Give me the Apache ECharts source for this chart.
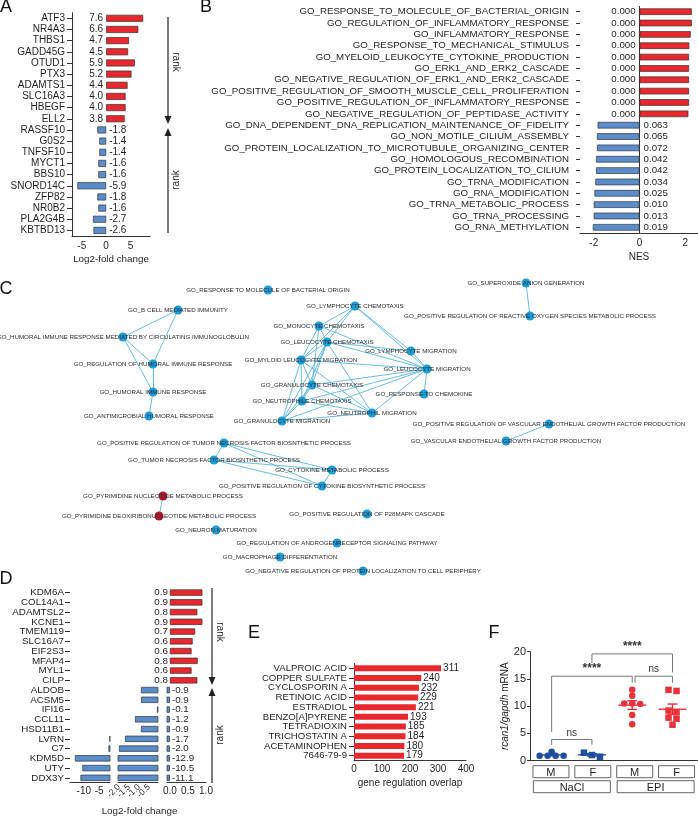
<!DOCTYPE html>
<html><head><meta charset="utf-8">
<script src="https://cdn.jsdelivr.net/npm/echarts@6/dist/echarts.min.js"></script>
<style>html,body{margin:0;padding:0;background:#fff}#c{width:698px;height:817px}</style>
</head><body><div id="c"></div>
<script>
// ---------- DATA ----------
// Panel A
const genesA = ['ATF3','NR4A3','THBS1','GADD45G','OTUD1','PTX3','ADAMTS1','SLC16A3','HBEGF','ELL2','RASSF10','G0S2','TNFSF10','MYCT1','BBS10','SNORD14C','ZFP82','NR0B2','PLA2G4B','KBTBD13'];
const fcA = [7.6,6.6,4.7,4.5,5.9,5.2,4.4,4.0,4.0,3.8,-1.8,-1.4,-1.4,-1.6,-1.6,-5.9,-1.8,-1.6,-2.7,-2.6];
const ticksA = [-5,0,5];
// Panel B
const termsB = ['GO_RESPONSE_TO_MOLECULE_OF_BACTERIAL_ORIGIN','GO_REGULATION_OF_INFLAMMATORY_RESPONSE','GO_INFLAMMATORY_RESPONSE','GO_RESPONSE_TO_MECHANICAL_STIMULUS','GO_MYELOID_LEUKOCYTE_CYTOKINE_PRODUCTION','GO_ERK1_AND_ERK2_CASCADE','GO_NEGATIVE_REGULATION_OF_ERK1_AND_ERK2_CASCADE','GO_POSITIVE_REGULATION_OF_SMOOTH_MUSCLE_CELL_PROLIFERATION','GO_POSITIVE_REGULATION_OF_INFLAMMATORY_RESPONSE','GO_NEGATIVE_REGULATION_OF_PEPTIDASE_ACTIVITY','GO_DNA_DEPENDENT_DNA_REPLICATION_MAINTENANCE_OF_FIDELITY','GO_NON_MOTILE_CILIUM_ASSEMBLY','GO_PROTEIN_LOCALIZATION_TO_MICROTUBULE_ORGANIZING_CENTER','GO_HOMOLOGOUS_RECOMBINATION','GO_PROTEIN_LOCALIZATION_TO_CILIUM','GO_TRNA_MODIFICATION','GO_RNA_MODIFICATION','GO_TRNA_METABOLIC_PROCESS','GO_TRNA_PROCESSING','GO_RNA_METHYLATION'];
const nesB = [2.28,2.28,2.23,2.17,2.16,2.16,2.16,2.16,2.16,2.13,-1.83,-1.86,-1.86,-1.90,-1.90,-1.93,-1.97,-2.00,-2.00,-2.04];
const fdrB = ['0.000','0.000','0.000','0.000','0.000','0.000','0.000','0.000','0.000','0.000','0.063','0.065','0.072','0.042','0.042','0.034','0.025','0.010','0.013','0.019'];
const ticksB = [-2,0,2];
// Panel C (network)
const nodeNames = ['GO_RESPONSE TO MOLECULE OF BACTERIAL ORIGIN','GO_B CELL MEDIATED IMMUNITY','GO_HUMORAL IMMUNE RESPONSE MEDIATED BY CIRCULATING IMMUNOGLOBULIN','GO_REGULATION OF HUMORAL IMMUNE RESPONSE','GO_HUMORAL IMMUNE RESPONSE','GO_ANTIMICROBIAL HUMORAL RESPONSE','GO_MONOCYTE CHEMOTAXIS','GO_LEUCOCYTE CHEMOTAXIS','GO_MYLOID LEUCOCYTE MIGRATION','GO_GRANULOCYTE CHEMOTAXIS','GO_NEUTROPHILE CHEMOTAXIS','GO_GRANULOCYTE MIGRATION','GO_LYMPHOCYTE CHEMOTAXIS','GO_LYMPHOCYTE MIGRATION','GO_LEUCOCYTE MIGRATION','GO_RESPONSE TO CHEMOKINE','GO_NEUTROPHIL MIGRATION','GO_SUPEROXIDE ANION GENERATION','GO_POSITIVE REGULATION OF REACTIVE OXYGEN SPECIES METABOLIC PROCESS','GO_POSITIVE REGULATION OF VASCULAR ENDOTHELIAL GROWTH FACTOR PRODUCTION','GO_VASCULAR ENDOTHELIAL GROWTH FACTOR PRODUCTION','GO_POSITIVE REGULATION OF TUMOR NECROSIS FACTOR BIOSNTHETIC PROCESS','GO_TUMOR NECROSIS FACTOR BIOSNTHETIC PROCESS','GO_CYTOKINE METABOLIC PROCESS','GO_POSITIVE REGULATION OF CYTOKINE BIOSYNTHETIC PROCESS','GO_PYRIMIDINE NUCLEOTIDE METABOLIC PROCESS','GO_PYRIMIDINE DEOXIRIBONUCLEOTIDE METABOLIC PROCESS','GO_NEURON MATURATION','GO_POSITIVE REGULATION OF P28MAPK CASCADE','GO_REGULATION OF ANDROGENRECEPTOR SIGNALING PATHWAY','GO_MACROPHAGE DIFFERENTIATION','GO_NEGATIVE REGULATION OF PROTEIN LOCALIZATION TO CELL PERIPHERY'];
const nodeX = [268,178,123,153,153,149,319,327,301,312,302,282,355,411,427,424,372,526,530,549,506,224,214,332,322,163,159,216,367,337,280,363];
const nodeY = [290,310,337,364,392,416,326,342,360,385,401,421,306,351,369,394,413,283,316,424,441,443,460,470,486,496,516,530,514,543,557,571];
const nodeGroup = ['up','up','up','up','up','up','up','up','up','up','up','up','up','up','up','up','up','up','up','up','up','up','up','up','up','down','down','up','up','up','up','up'];
const edges = [[1,2],[1,3],[2,3],[2,4],[3,4],[4,5],
 [12,6],[12,7],[12,8],[12,13],[12,14],
 [6,7],[6,8],[6,9],[6,14],
 [7,8],[7,9],[7,10],[7,11],[7,13],[7,14],[7,16],
 [8,9],[8,10],[8,11],[8,14],[8,16],
 [9,10],[9,11],[9,14],[9,16],
 [10,11],[10,14],[10,16],
 [11,14],[11,16],[13,14],[14,15],[14,16],
 [17,18],[19,20],[21,22],[21,23],[21,24],[22,23],[22,24],[23,24],[25,26]];
// Panel D
const genesD = ['KDM6A','COL14A1','ADAMTSL2','KCNE1','TMEM119','SLC16A7','EIF2S3','MFAP4','MYL1','CILP','ALDOB','ACSM5','IFI16','CCL11','HSD11B1','LVRN','C7','KDM5D','UTY','DDX3Y'];
const fcD = [0.9,0.9,0.76,0.9,0.7,0.63,0.6,0.77,0.6,0.76,-0.9,-0.9,-0.1,-1.2,-0.9,-1.7,-2.0,-12.9,-10.5,-11.1];
const ticksD1 = [-10,-5];
const ticksD2 = [-2.0,-1.5,-1.0,-0.5];
const ticksD2a = [-2.0,-1.0];
const ticksD2b = [-1.5,-0.5];
const ticksD3 = [0.0,0.5,1.0];
// Panel E
const chemE = ['VALPROIC ACID','COPPER SULFATE','CYCLOSPORIN A','RETINOIC ACID','ESTRADIOL','BENZO[A]PYRENE','TETRADIOXIN','TRICHOSTATIN A','ACETAMINOPHEN','7646-79-9'];
const overlapE = [311,240,232,229,221,193,185,184,180,179];
// Panel F
const sexF = ['M','F','M','F'];
const treatF = ['NaCl','EPI'];
const naclM = [1.65,0.9,0.9,0.9,0.9];
const naclF = [0.73,1.47,1.04];
const epiM = [13.0,11.9,10.5,10.4,10.5,8.4,6.7];
const epiF = [13.0,12.8,9.2,8.9,7.9,7.7,6.6];
const sigLabels = ['****','ns','****','ns'];
// bracket: [fromGroup, toGroup, top, leftEnd, rightEnd]
const sigBrackets = [[0,2,15.5,5.3,14.3],[2.07,3,15.5,14.3,14.3],[1,3,19.6,17.9,16.2],[0,1,3.9,2.9,2.9]];

// ---------- STYLE ----------
const FONT = '"Liberation Sans", Arial, Helvetica, sans-serif';
const TXT = '#1e1e1e';
const RED = '#e8282c', BLUE = '#5a8dcc', OUT = '#333';
const FBLUE = '#1f4f9e', FRED = '#e8323a';
const NODE_BLUE = '#1d9dd8', NODE_RED = '#b0172c';

function barData(vals){
  return vals.map(v => ({value: v, itemStyle: {color: v >= 0 ? RED : BLUE}, label: {position: v >= 0 ? 'left' : 'right'}}));
}
function swarm(vals, thr, step){
  const idx = vals.map((v,i)=>i).sort((a,b)=>vals[b]-vals[a]);
  const rows = []; let cur = [];
  idx.forEach(i => { if (cur.length && vals[cur[cur.length-1]] - vals[i] > thr) { rows.push(cur); cur = []; } cur.push(i); });
  if (cur.length) rows.push(cur);
  const off = new Array(vals.length).fill(0);
  rows.forEach(r => r.forEach((i,k) => off[i] = (k - (r.length-1)/2) * step));
  return off;
}
function meanSem(v){
  const m = v.reduce((a,b)=>a+b,0)/v.length;
  const sd = Math.sqrt(v.reduce((a,b)=>a+(b-m)*(b-m),0)/(v.length-1));
  return [m, sd/Math.sqrt(v.length)];
}
const groupsF = [naclM, naclF, epiM, epiF];
const groupColor = [FBLUE, FBLUE, FRED, FRED];
const groupSymbol = ['circle','rect','circle','rect'];

const catAxisBase = (grid, data, show) => ({
  type:'category', gridIndex:grid, data:data, inverse:true, show:show,
  axisLine:{show:false, onZero:false}, axisTick:{show:true, alignWithLabel:true, length:5, lineStyle:{color:'#333'}},
  axisLabel:{interval:0, fontSize:10, color:TXT, fontFamily:FONT, margin:7}
});
const axLine = {show:true, onZero:false, lineStyle:{color:'#333', width:1}};
const seg2Label = vals => ({customValues:vals, rotate:45, fontSize:8.5, color:TXT, margin:3, hideOverlap:false, showMinLabel:true, showMaxLabel:true, formatter:v=>Number(v).toFixed(1)});

const xAxes = [
  // 0 A
  {type:'value', gridIndex:0, min:-7, max:9, interval:1, axisLine:axLine, splitLine:{show:false},
   axisTick:{length:3, lineStyle:{color:'#333'}}, axisLabel:{customValues:ticksA, fontSize:10, color:TXT, margin:5},
   name:'Log2-fold change', nameLocation:'middle', nameGap:18, nameTextStyle:{fontSize:9.8, color:TXT}},
  // 1 B
  {type:'value', gridIndex:1, min:-2.6, max:2.55, axisLine:axLine, splitLine:{show:false},
   axisTick:{customValues:ticksB, length:4, lineStyle:{color:'#333'}}, axisLabel:{customValues:ticksB, fontSize:10, color:TXT, margin:5},
   name:'NES', nameLocation:'middle', nameGap:19, nameTextStyle:{fontSize:10, color:TXT}},
  // 2 D seg1
  {type:'value', gridIndex:2, min:-14.5, max:-1.5, axisLine:axLine, splitLine:{show:false},
   axisTick:{customValues:ticksD1, length:3}, axisLabel:{customValues:ticksD1, fontSize:10, color:TXT, margin:4}},
  // 3 D seg2 (ticks + half the labels)
  {type:'value', gridIndex:3, position:'bottom', min:-2.05, max:-0.05, axisLine:axLine, splitLine:{show:false},
   axisTick:{customValues:ticksD2, length:3}, axisLabel:seg2Label(ticksD2a)},
  // 4 D seg3
  {type:'value', gridIndex:4, min:-0.08, max:1.0, axisLine:axLine, splitLine:{show:false},
   axisTick:{customValues:ticksD3, length:3}, axisLabel:{customValues:ticksD3, fontSize:10, color:TXT, margin:4, hideOverlap:false, formatter:v=>Number(v).toFixed(1)}},
  // 5 E
  {type:'value', gridIndex:5, min:0, max:400, interval:100, axisLine:axLine, splitLine:{show:false},
   axisTick:{length:4, lineStyle:{color:'#333'}}, axisLabel:{fontSize:10, color:TXT, margin:4},
   name:'gene regulation overlap', nameLocation:'middle', nameGap:18, nameTextStyle:{fontSize:10, color:TXT}},
  // 6 F value
  {type:'value', gridIndex:6, min:-0.537, max:3.62, axisLine:axLine, axisTick:{show:false}, axisLabel:{show:false}, splitLine:{show:false}},
  // 7 F sex boxes
  {type:'category', gridIndex:6, data:sexF, position:'bottom', axisLine:{show:false}, axisTick:{show:false},
   axisLabel:{interval:0, fontSize:11, color:TXT, margin:5, borderColor:'#666', borderWidth:1, width:36, height:11, lineHeight:12, padding:[1,0,0,0], align:'center'}},
  // 8 F treatment boxes
  {type:'category', gridIndex:6, data:treatF, position:'bottom', offset:15, axisLine:{show:false}, axisTick:{show:false},
   axisLabel:{interval:0, fontSize:11, color:TXT, margin:5, borderColor:'#666', borderWidth:1, width:77, height:11, lineHeight:12, padding:[1,0,0,0], align:'center'}},
  // 9 C hidden
  {type:'value', gridIndex:7, min:0, max:698, show:false},
  // 10 D seg2 other labels
  {type:'value', gridIndex:3, position:'bottom', min:-2.05, max:-0.05, axisLine:{show:false}, axisTick:{show:false}, splitLine:{show:false},
   axisLabel:seg2Label(ticksD2b)}
];
const yAxes = [
  Object.assign(catAxisBase(0, genesA, true), {axisLine:{show:true, onZero:false, lineStyle:{color:'#333'}}}),
  Object.assign(catAxisBase(1, termsB, true), {axisTick:{show:true, alignWithLabel:true, length:4, lineStyle:{color:'#333'}}, axisLabel:{interval:0, fontSize:9.7, color:TXT, margin:11}}),
  Object.assign(catAxisBase(2, genesD, true), {axisLabel:{interval:0, fontSize:9.8, color:TXT, margin:6}}),
  catAxisBase(3, genesD, false),
  catAxisBase(4, genesD, false),
  Object.assign(catAxisBase(5, chemE, true), {axisLine:{show:true, onZero:false, lineStyle:{color:'#333'}}, axisLabel:{interval:0, fontSize:9.6, color:TXT, margin:7}}),
  {type:'value', gridIndex:6, min:0, max:20, interval:5, axisLine:axLine, splitLine:{show:false},
   axisTick:{length:3, lineStyle:{color:'#333'}}, axisLabel:{fontSize:11, color:TXT, margin:4},
   name:'{i|rcan1/gapdh} mRNA', nameLocation:'middle', nameGap:18, nameRotate:90,
   nameTextStyle:{fontSize:10, color:TXT, rich:{i:{fontStyle:'italic', fontSize:10, color:TXT}}}},
  {type:'value', gridIndex:7, min:0, max:817, inverse:true, show:false}
];

const series = [];
// A
series.push({type:'bar', xAxisIndex:0, yAxisIndex:0, data:barData(fcA), barWidth:7,
  itemStyle:{borderColor:OUT, borderWidth:0.7},
  label:{show:true, distance:3, fontSize:10, color:TXT, formatter:p=>p.value.toFixed(1)}});
// B
series.push({type:'bar', xAxisIndex:1, yAxisIndex:1, data:barData(nesB), barWidth:6.6,
  itemStyle:{borderColor:OUT, borderWidth:0.7},
  label:{show:true, distance:4, fontSize:9.7, color:TXT, formatter:p=>fdrB[p.dataIndex]},
  markLine:{silent:true, symbol:'none', label:{show:false}, lineStyle:{color:'#333', width:1, type:'solid'}, data:[{xAxis:0}]}});
// D three segments
[2,3,4].forEach((g,k) => {
  series.push({type:'bar', xAxisIndex:g, yAxisIndex:g, data:barData(fcD), barWidth:6.3, clip:true,
    itemStyle:{borderColor:OUT, borderWidth:0.7},
    label:{show:k===2, distance:2, fontSize:9.8, color:TXT, formatter:p=>p.value.toFixed(1)}});
});
// E
series.push({type:'bar', xAxisIndex:5, yAxisIndex:5, data:overlapE, barWidth:6, itemStyle:{color:RED},
  label:{show:true, position:'right', distance:2, fontSize:10, color:TXT}});
// F points
groupsF.forEach((vals, gi) => {
  const off = swarm(vals, 0.7, 8);
  series.push({type:'scatter', xAxisIndex:6, yAxisIndex:6, symbol:groupSymbol[gi], symbolSize:6.5,
    itemStyle:{color:groupColor[gi], opacity:1}, z:3,
    data:vals.map((v,i)=>({value:[gi, v], symbolOffset:[off[i], 0]}))});
});
// F mean ± SEM
series.push({type:'custom', xAxisIndex:6, yAxisIndex:6, z:4,
  data:groupsF.map((v,gi)=>{const ms=meanSem(v); return [gi, ms[0], ms[1]];}),
  renderItem:(params, api) => {
    const x = api.value(0), m = api.value(1), s = api.value(2);
    const c = api.coord([x,m]), t = api.coord([x,m+s]), b = api.coord([x,m-s]);
    const col = groupColor[params.dataIndex];
    const st = {stroke:col, lineWidth:1.4};
    return {type:'group', children:[
      {type:'line', shape:{x1:c[0]-14, y1:c[1], x2:c[0]+14, y2:c[1]}, style:st},
      {type:'line', shape:{x1:c[0], y1:t[1], x2:c[0], y2:b[1]}, style:st},
      {type:'line', shape:{x1:c[0]-5, y1:t[1], x2:c[0]+5, y2:t[1]}, style:st},
      {type:'line', shape:{x1:c[0]-5, y1:b[1], x2:c[0]+5, y2:b[1]}, style:st}
    ]};
  }});
// F significance brackets
series.push({type:'custom', xAxisIndex:6, yAxisIndex:6, z:5, data:sigBrackets,
  renderItem:(params, api) => {
    const x1 = api.value(0), x2 = api.value(1), top = api.value(2), yl = api.value(3), yr = api.value(4);
    const a = api.coord([x1, top]), b = api.coord([x2, top]), l = api.coord([x1, yl]), r = api.coord([x2, yr]);
    return {type:'group', children:[
      {type:'polyline', shape:{points:[l, a, b, r]}, style:{stroke:'#777', lineWidth:1, fill:null}},
      {type:'text', style:{x:(a[0]+b[0])/2, y:a[1]-1.5, text:sigLabels[params.dataIndex], align:'center', verticalAlign:'bottom',
        fontSize: sigLabels[params.dataIndex]==='ns' ? 10 : 12, fontWeight: sigLabels[params.dataIndex]==='ns' ? 'normal' : 'bold', fill:'#333', fontFamily:FONT}}
    ]};
  }});
// C network
series.push({type:'graph', coordinateSystem:'cartesian2d', xAxisIndex:9, yAxisIndex:7, symbolSize:9, z:2,
  data:nodeNames.map((n,i)=>({name:n, value:[nodeX[i], nodeY[i]], itemStyle:{color: nodeGroup[i]==='down' ? NODE_RED : NODE_BLUE}})),
  links:edges.map(e=>({source:nodeNames[e[0]], target:nodeNames[e[1]]})),
  lineStyle:{color:'#58b5dd', width:0.9, opacity:1},
  label:{show:true, position:'inside', fontSize:6.2, color:'#2a2a2a', fontFamily:FONT, formatter:'{b}'},
  emphasis:{disabled:true}, silent:true});

// ---------- decorations ----------
function arrow(x, y1, y2){ // arrow from y1 to tip y2
  const dir = y2 > y1 ? 1 : -1;
  return [
    {type:'line', shape:{x1:x, y1:y1, x2:x, y2:y2 - dir*6}, style:{stroke:'#222', lineWidth:1.2}},
    {type:'polygon', shape:{points:[[x-3.5, y2 - dir*8],[x+3.5, y2 - dir*8],[x, y2]]}, style:{fill:'#222'}}
  ];
}
const letter = (t, x, y) => ({type:'text', x:x, y:y, style:{text:t, fontSize:18, fill:'#111', fontFamily:FONT, align:'center', verticalAlign:'middle'}});
const rankTxt = (x, y, rot) => ({type:'text', x:x, y:y, rotation:rot, style:{text:'rank', fontSize:10, fill:TXT, fontFamily:FONT, align:'center', verticalAlign:'middle'}});
const graphics = [
  letter('A', 6, 7), letter('B', 206, 7), letter('C', 6, 289), letter('D', 6, 579), letter('E', 254, 633), letter('F', 494, 633),
  ...arrow(168, 17, 124), ...arrow(168, 233, 128),
  rankTxt(176, 62, -Math.PI/2), rankTxt(176, 180, Math.PI/2),
  ...arrow(212, 588, 685), ...arrow(212, 783, 688),
  rankTxt(220, 632, -Math.PI/2), rankTxt(220, 735, Math.PI/2),
  {type:'text', x:139.5, y:811.5, style:{text:'Log2-fold change', fontSize:9.8, fill:TXT, fontFamily:FONT, align:'center', verticalAlign:'middle'}}
];

const chart = echarts.init(document.getElementById('c'), null, {renderer:'canvas'});
chart.setOption({
  animation:false,
  backgroundColor:'#fff',
  textStyle:{fontFamily:FONT},
  grid:[
    {left:72, top:12.7, width:78, height:223.3},
    {left:580, top:6, width:118, height:227},
    {left:70, top:587.7, width:40, height:195},
    {left:118, top:587.7, width:40, height:195},
    {left:167, top:587.7, width:39, height:195},
    {left:354, top:663.5, width:112, height:97},
    {left:530, top:651.7, width:168, height:109},
    {left:0, top:0, width:698, height:817}
  ],
  xAxis:xAxes, yAxis:yAxes, series:series, graphic:graphics
});
</script></body></html>
